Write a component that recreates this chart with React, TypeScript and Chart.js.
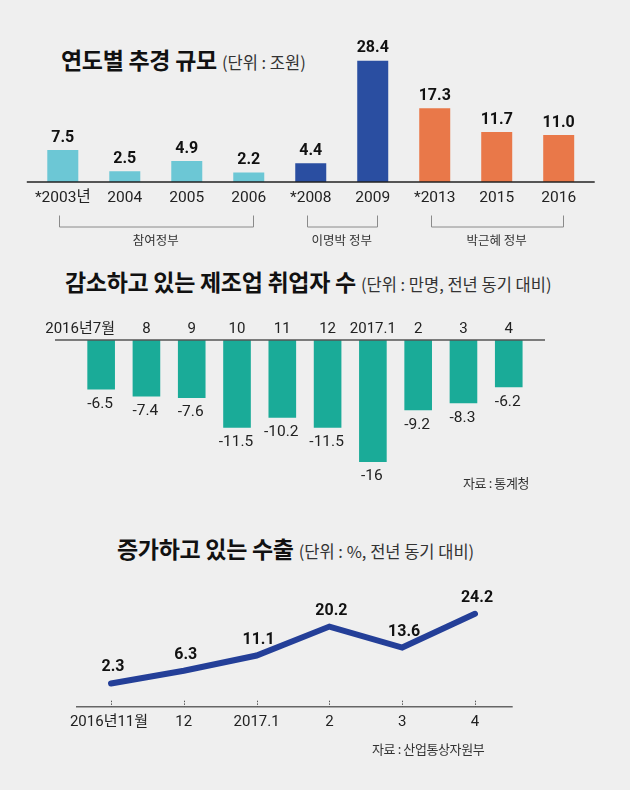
import React, { useEffect, useRef } from "react";
import { Chart, registerables } from "chart.js";

Chart.register(...registerables);

// ---------- data ----------
const budgetYears = ["*2003년", "2004", "2005", "2006", "*2008", "2009", "*2013", "2015", "2016"];
const budgetValues = [7.5, 2.5, 4.9, 2.2, 4.4, 28.4, 17.3, 11.7, 11.0];
const budgetGroupOf = [0, 0, 0, 0, 1, 1, 2, 2, 2];
const governmentNames = ["참여정부", "이명박 정부", "박근혜 정부"];
const governmentFirst = [0, 4, 6];
const governmentLast = [3, 5, 8];

const jobMonths = ["2016년7월", "8", "9", "10", "11", "12", "2017.1", "2", "3", "4"];
const jobValues = [-6.5, -7.4, -7.6, -11.5, -10.2, -11.5, -16, -9.2, -8.3, -6.2];

const exportMonths = ["2016년11월", "12", "2017.1", "2", "3", "4"];
const exportValues = [2.3, 6.3, 11.1, 20.2, 13.6, 24.2];

// ---------- styles ----------
const BG = "#efefef";
const groupColors = ["#6cc7d5", "#2a4ea1", "#e97849"];
const TEAL = "#1aab98";
const LINE_BLUE = "#243f98";
const NUM_FONT = 'Roboto, "Noto Sans CJK KR", sans-serif';
const KR_FONT = '"Noto Sans CJK KR", Roboto, sans-serif';

function BudgetChart() {
  const ref = useRef<HTMLCanvasElement | null>(null);
  useEffect(() => {
    const plugin = {
      id: "budgetDecor",
      afterDatasetsDraw(chart: any) {
        const ctx = chart.ctx;
        const ys = chart.scales.y;
        const area = chart.chartArea;
        const y0 = ys.getPixelForValue(0);
        const meta = chart.getDatasetMeta(0);
        ctx.save();
        // baseline
        ctx.strokeStyle = "#222";
        ctx.lineWidth = 1.6;
        ctx.beginPath();
        ctx.moveTo(area.left - 5, y0);
        ctx.lineTo(area.right + 5, y0);
        ctx.stroke();
        // value labels & categories
        ctx.textAlign = "center";
        ctx.textBaseline = "middle";
        meta.data.forEach((bar: any, i: number) => {
          ctx.fillStyle = "#111";
          ctx.font = "bold 16px " + NUM_FONT;
          ctx.fillText(budgetValues[i].toFixed(1), bar.x, bar.y - 12.5);
          ctx.fillStyle = "#222";
          ctx.font = "15.5px " + NUM_FONT;
          ctx.fillText(budgetYears[i], bar.x, y0 + 16.5);
        });
        // brackets
        ctx.strokeStyle = "#8a8a8a";
        ctx.lineWidth = 1;
        governmentNames.forEach((name, g) => {
          const xa = meta.data[governmentFirst[g]].x - 4;
          const xb = meta.data[governmentLast[g]].x + 4;
          const top = y0 + 33.5;
          const bot = y0 + 44.5;
          ctx.beginPath();
          ctx.moveTo(Math.round(xa) + 0.5, top);
          ctx.lineTo(Math.round(xa) + 0.5, bot + 0.5);
          ctx.lineTo(Math.round(xb) + 0.5, bot + 0.5);
          ctx.lineTo(Math.round(xb) + 0.5, top);
          ctx.stroke();
          ctx.fillStyle = "#333";
          ctx.font = "12.5px " + KR_FONT;
          ctx.fillText(name, (xa + xb) / 2, y0 + 58.5);
        });
        ctx.restore();
      },
    };
    const chart = new Chart(ref.current as HTMLCanvasElement, {
      type: "bar",
      data: {
        labels: budgetYears,
        datasets: [
          {
            data: budgetValues,
            backgroundColor: budgetGroupOf.map((g) => groupColors[g]),
            barPercentage: 0.5,
            categoryPercentage: 1,
          },
        ],
      },
      options: {
        responsive: false,
        animation: false,
        layout: { padding: { left: 31.8, right: 40.3, top: 54, bottom: 78 } },
        plugins: { legend: { display: false }, tooltip: { enabled: false } },
        scales: {
          x: { display: false },
          y: { display: false, min: 0, max: 30 },
        },
      },
      plugins: [plugin],
    } as any);
    return () => chart.destroy();
  }, []);
  return (
    <canvas
      ref={ref}
      width={630}
      height={260}
      style={{ position: "absolute", left: 0, top: 0 }}
    />
  );
}

function JobsChart() {
  const ref = useRef<HTMLCanvasElement | null>(null);
  useEffect(() => {
    const plugin = {
      id: "jobsDecor",
      afterDatasetsDraw(chart: any) {
        const ctx = chart.ctx;
        const ys = chart.scales.y;
        const area = chart.chartArea;
        const y0 = ys.getPixelForValue(0);
        const meta = chart.getDatasetMeta(0);
        ctx.save();
        ctx.strokeStyle = "#555";
        ctx.lineWidth = 1.3;
        ctx.beginPath();
        ctx.moveTo(area.left - 23.5, y0);
        ctx.lineTo(area.right + 13.6, y0);
        ctx.stroke();
        ctx.textBaseline = "middle";
        meta.data.forEach((bar: any, i: number) => {
          ctx.fillStyle = "#222";
          ctx.font = "15px " + NUM_FONT;
          if (i === 0) {
            ctx.textAlign = "right";
            ctx.fillText(jobMonths[i], bar.x + bar.width / 2, y0 - 10.5);
          } else {
            ctx.textAlign = "center";
            ctx.fillText(jobMonths[i], bar.x, y0 - 10.5);
          }
          ctx.textAlign = "center";
          ctx.font = "15.5px " + NUM_FONT;
          ctx.fillText(String(jobValues[i]), bar.x - 1, bar.y + 14.5);
        });
        ctx.restore();
      },
    };
    const chart = new Chart(ref.current as HTMLCanvasElement, {
      type: "bar",
      data: {
        labels: jobMonths,
        datasets: [
          {
            data: jobValues,
            backgroundColor: TEAL,
            barPercentage: 0.61,
            categoryPercentage: 1,
          },
        ],
      },
      options: {
        responsive: false,
        animation: false,
        layout: { padding: { left: 78.5, right: 98.6, top: 40, bottom: 32.7 } },
        plugins: { legend: { display: false }, tooltip: { enabled: false } },
        scales: {
          x: { display: false },
          y: { display: false, min: -18, max: 0 },
        },
      },
      plugins: [plugin],
    } as any);
    return () => chart.destroy();
  }, []);
  return (
    <canvas
      ref={ref}
      width={630}
      height={210}
      style={{ position: "absolute", left: 0, top: 300 }}
    />
  );
}

function ExportChart() {
  const ref = useRef<HTMLCanvasElement | null>(null);
  useEffect(() => {
    const plugin = {
      id: "exportDecor",
      beforeDatasetsDraw(chart: any) {
        const ctx = chart.ctx;
        const area = chart.chartArea;
        const xs = chart.scales.x;
        const yb = area.bottom;
        ctx.save();
        ctx.strokeStyle = "#666";
        ctx.lineWidth = 1.5;
        ctx.beginPath();
        ctx.moveTo(area.left - 35, yb);
        ctx.lineTo(area.right + 37.7, yb);
        ctx.stroke();
        ctx.lineWidth = 1;
        ctx.setLineDash([1.5, 1.2]);
        ctx.strokeStyle = "#555";
        exportMonths.forEach((m, i) => {
          const x = Math.round(xs.getPixelForValue(i)) + 0.5;
          ctx.beginPath();
          ctx.moveTo(x, yb - 6);
          ctx.lineTo(x, yb);
          ctx.stroke();
        });
        ctx.setLineDash([]);
        ctx.fillStyle = "#222";
        ctx.font = "15px " + NUM_FONT;
        ctx.textAlign = "center";
        ctx.textBaseline = "middle";
        exportMonths.forEach((m, i) => {
          ctx.fillText(m, xs.getPixelForValue(i) - (i === 0 ? 2 : 0), yb + 16);
        });
        ctx.restore();
      },
      afterDatasetsDraw(chart: any) {
        const ctx = chart.ctx;
        const meta = chart.getDatasetMeta(0);
        ctx.save();
        ctx.fillStyle = "#111";
        ctx.font = "bold 16px " + NUM_FONT;
        ctx.textAlign = "center";
        ctx.textBaseline = "middle";
        meta.data.forEach((pt: any, i: number) => {
          ctx.fillText(String(exportValues[i]), pt.x + 2, pt.y - 16);
        });
        ctx.restore();
      },
    };
    const chart = new Chart(ref.current as HTMLCanvasElement, {
      type: "line",
      data: {
        labels: exportMonths,
        datasets: [
          {
            data: exportValues,
            borderColor: LINE_BLUE,
            borderWidth: 6,
            borderCapStyle: "round",
            borderJoinStyle: "miter",
            pointRadius: 0,
            tension: 0,
            fill: false,
            clip: false,
          },
        ],
      },
      options: {
        responsive: false,
        animation: false,
        layout: { padding: { left: 111, right: 155, top: 25.4, bottom: 63.3 } },
        plugins: { legend: { display: false }, tooltip: { enabled: false } },
        scales: {
          x: { display: false, offset: false },
          y: { display: false, min: -5, max: 30 },
        },
      },
      plugins: [plugin],
    } as any);
    return () => chart.destroy();
  }, []);
  return (
    <canvas
      ref={ref}
      width={630}
      height={200}
      style={{ position: "absolute", left: 0, top: 570 }}
    />
  );
}

const titleStyle: React.CSSProperties = {
  position: "absolute",
  whiteSpace: "nowrap",
  fontFamily: KR_FONT,
  fontWeight: 700,
  fontSize: 23,
  lineHeight: "23px",
  color: "#111",
  letterSpacing: "-0.3px",
};
const subStyle: React.CSSProperties = {
  fontWeight: 400,
  fontSize: 16.5,
  color: "#333",
  marginLeft: 5,
  letterSpacing: "0px",
};
const sourceStyle: React.CSSProperties = {
  position: "absolute",
  whiteSpace: "nowrap",
  fontFamily: KR_FONT,
  fontSize: 13,
  lineHeight: "13px",
  color: "#333",
  letterSpacing: "-0.4px",
};

export default function App() {
  return (
    <div
      style={{
        position: "absolute",
        left: 0,
        top: 0,
        width: 630,
        height: 790,
        background: BG,
        overflow: "hidden",
      }}
    >
      <div style={{ ...titleStyle, left: 61, top: 48 }}>
        연도별 추경 규모<span style={subStyle}>(단위 : 조원)</span>
      </div>
      <div style={{ ...titleStyle, left: 65, top: 270 }}>
        감소하고 있는 제조업 취업자 수<span style={subStyle}>(단위 : 만명, 전년 동기 대비)</span>
      </div>
      <div style={{ ...titleStyle, left: 117, top: 537 }}>
        증가하고 있는 수출<span style={subStyle}>(단위 : %, 전년 동기 대비)</span>
      </div>
      <BudgetChart />
      <JobsChart />
      <ExportChart />
      <div style={{ ...sourceStyle, left: 463, top: 476 }}>자료 : 통계청</div>
      <div style={{ ...sourceStyle, left: 372, top: 742 }}>자료 : 산업통상자원부</div>
    </div>
  );
}
